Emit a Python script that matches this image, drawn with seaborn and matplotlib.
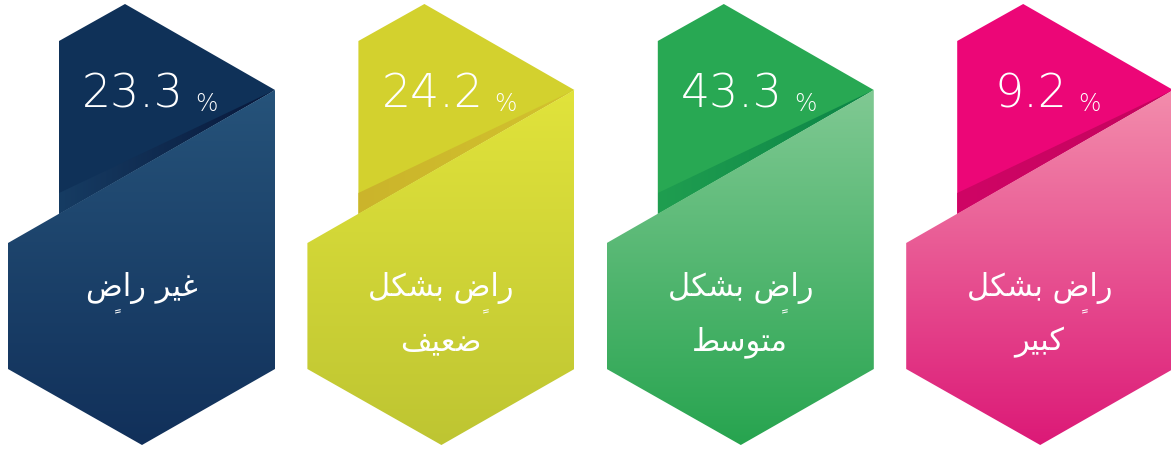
import numpy as np
import matplotlib.pyplot as plt
from matplotlib.patches import Polygon
from matplotlib.colors import LinearSegmentedColormap
from matplotlib.font_manager import FontProperties
import seaborn as sns

sns.set_theme(style="white")
plt.rcParams["font.family"] = ["DejaVu Sans"]

# --- data -------------------------------------------------------------
categories = ["غير راضٍ", "راضٍ بشكل ضعيف", "راضٍ بشكل متوسط", "راضٍ بشكل كبير"]
values = [23.3, 24.2, 43.3, 9.2]

# matplotlib does no Arabic shaping, so the lines are written with
# presentation forms in visual (left-to-right) order
DAD = "\uFEBD"                       # ض
RADI_TAIL = "\uFE8D\uFEAD"           # ا ر
BISHAKL = "\uFEDE\uFEDC\uFEB8\uFE91"  # بشكل
GHAYR = "\uFEAE\uFEF4\uFECF"          # غير
# each line is (text before ض, text after ض); ض carries the kasratan
label_lines = [
    [("", RADI_TAIL + " " + GHAYR)],                                        # غير راضٍ
    [(BISHAKL + " ", RADI_TAIL), ("\uFED2\uFEF4\uFECC\uFEBF", None)],        # ضعيف
    [(BISHAKL + " ", RADI_TAIL), ("\uFEC2\uFEB3\uFEEE\uFE98\uFEE3", None)],  # متوسط
    [(BISHAKL + " ", RADI_TAIL), ("\uFEAE\uFEF4\uFE92\uFEDB", None)],        # كبير
]
KASRATAN = "\uFE74"

dark_colors = ["#0f3158", "#d3d12e", "#28a853", "#ec0677"]
light_top = ["#26537a", "#e1e33b", "#80c993", "#f38dac"]
light_bottom = ["#11305a", "#bec532", "#27a44f", "#dc1977"]
fold_left = ["#163c63", "#cbb42b", "#1f9e50", "#cf0565"]
fold_right = ["#08173a", "#d2c22e", "#0c8446", "#c4045e"]

# --- shape template (pixels, relative to left edge of the top hexagon)
DARK = np.array([(0, 41), (66, 4), (216, 90), (0, 214)])
FOLD = np.array([(216, 90), (0, 193), (0, 214)])
LIGHT = np.array([(-51, 243), (216, 90), (216, 369), (83, 445), (-51, 369)])
STEP = 299.4
X_START = 59
LABEL_SIZE = 22


def gradient_fill(ax, pts, c0, c1, horizontal=False):
    poly = Polygon(pts, closed=True, facecolor="none", edgecolor="none")
    ax.add_patch(poly)
    cmap = LinearSegmentedColormap.from_list("g", [c0, c1])
    grad = np.linspace(0, 1, 256)
    grad = grad[None, :] if horizontal else grad[:, None]
    xmin, ymin = pts.min(axis=0)
    xmax, ymax = pts.max(axis=0)
    im = ax.imshow(grad, cmap=cmap, extent=(xmin, xmax, ymax, ymin),
                   aspect="auto", interpolation="bilinear", zorder=1)
    im.set_clip_path(poly)


fig = plt.figure(figsize=(11.71, 4.5), dpi=100)
ax = fig.add_axes([0, 0, 1, 1])
renderer = fig.canvas.get_renderer()
prop = FontProperties(family="DejaVu Sans", size=LABEL_SIZE)


def text_w(s):
    if not s:
        return 0.0
    return renderer.get_text_width_height_descent(s, prop, ismath=False)[0]


for i, (val, lines) in enumerate(zip(values, label_lines)):
    off = np.array([X_START + i * STEP, 0])

    ax.add_patch(Polygon(DARK + off, closed=True, facecolor=dark_colors[i],
                         edgecolor="none", zorder=1))
    gradient_fill(ax, FOLD + off, fold_left[i], fold_right[i], horizontal=True)
    gradient_fill(ax, LIGHT + off, light_top[i], light_bottom[i])

    num = ax.text(off[0] + 74, 107, f"{val:.1f}", color="white", fontsize=33,
                  fontweight="light", ha="center", va="baseline", zorder=3)
    ax.annotate("%", xy=(1, 0), xycoords=num, xytext=(8, 0),
                textcoords="offset points", color="white", fontsize=17,
                fontweight="light", ha="left", va="bottom", zorder=3)

    cx = off[0] + 82.5
    for k, (before, after) in enumerate(lines):
        y = 296 + k * 54
        if after is None:
            line = before
        else:
            line = before + DAD + after
        ax.text(cx, y, line, color="white", fontproperties=prop,
                ha="center", va="baseline", zorder=3)
        if after is not None:
            # small kasratan mark tucked under the ض
            left = cx - text_w(line) / 2
            dad_right = left + text_w(before + DAD)
            ax.text(dad_right - 5, y + 9, KASRATAN, color="white",
                    fontsize=14, ha="center", va="center", zorder=3)

ax.set_xlim(0, 1171)
ax.set_ylim(450, 0)
ax.axis("off")

fig.savefig("out.png", dpi=100, facecolor="white")
